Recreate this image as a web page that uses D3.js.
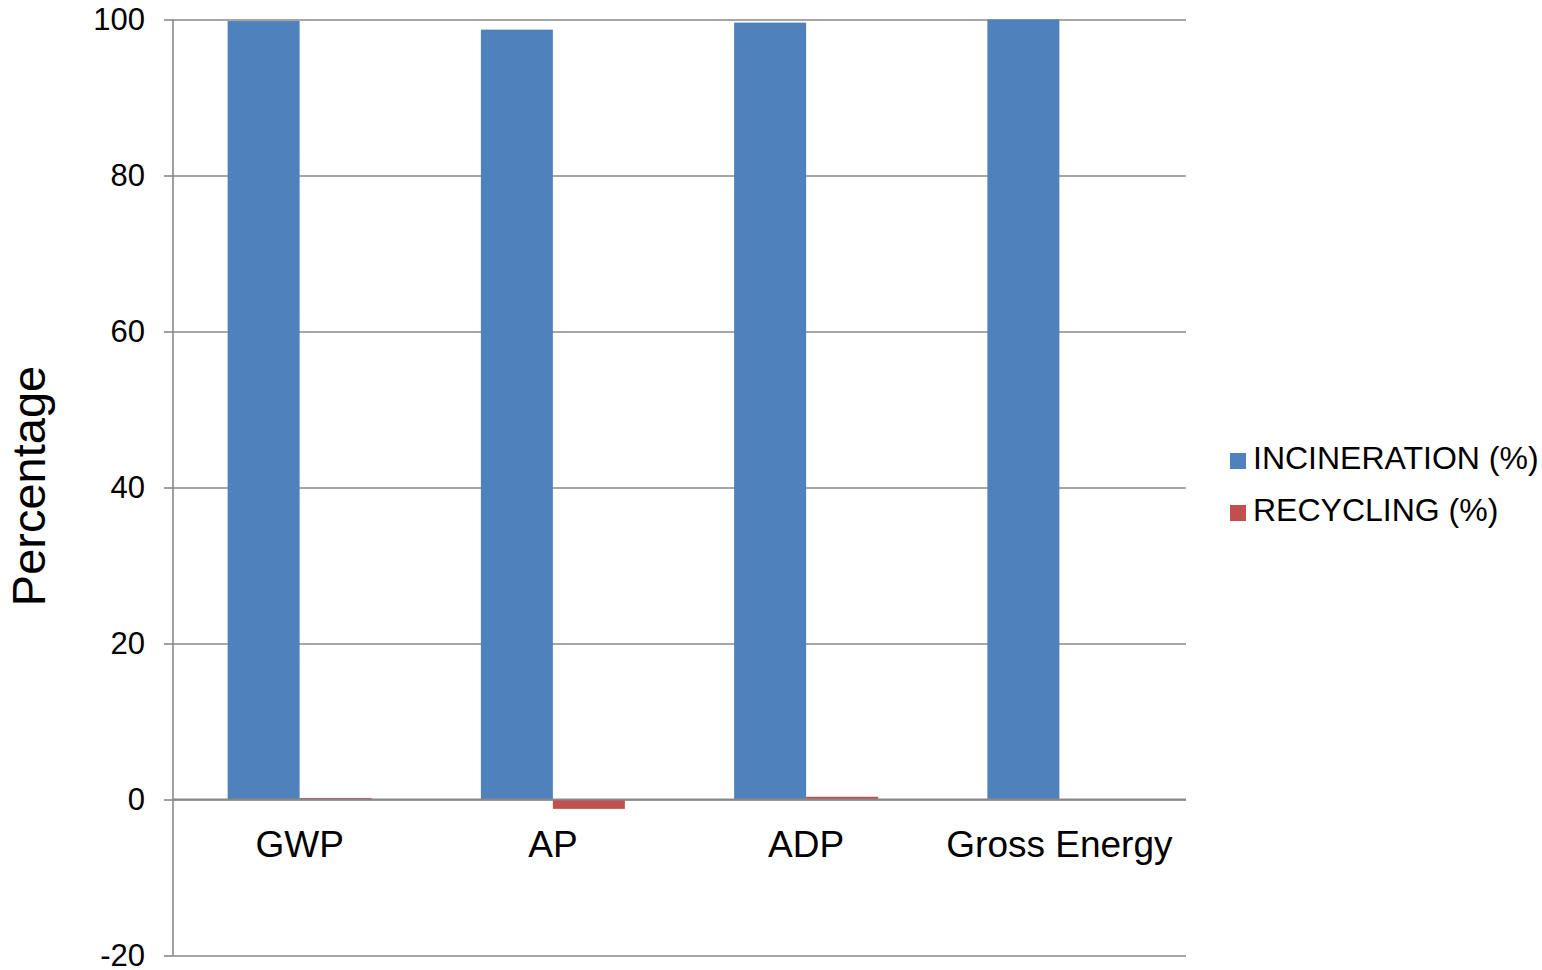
<!DOCTYPE html>
<html>
<head>
<meta charset="utf-8">
<script src="https://cdn.jsdelivr.net/npm/d3@7"></script>
<style>
  html, body { margin: 0; padding: 0; background: #fff; }
  svg { display: block; font-family: "Liberation Sans", Arial, sans-serif; }
</style>
</head>
<body>
<svg id="chart" width="1542" height="970"></svg>
<script>
// Impact categories on the x axis
const categories = ["GWP", "AP", "ADP", "Gross Energy"];
// Series shown side by side in each category
const seriesNames = ["INCINERATION (%)", "RECYCLING (%)"];
const incineration = [99.8, 98.7, 99.6, 100];
const recycling = [0.2, -1.2, 0.35, 0];
// Value axis ticks
const yTicks = [-20, 0, 20, 40, 60, 80, 100];
const yTitle = "Percentage";

const colors = ["#4F81BD", "#C0504D"];
const seriesValues = [incineration, recycling];

const svg = d3.select("#chart");
const plot = { left: 173, right: 1186, top: 19.5, bottom: 955.5 };

const y = d3.scaleLinear().domain([-20, 100]).range([plot.bottom, plot.top]);
const x = d3.scaleBand().domain(categories).range([plot.left, plot.right]).padding(0);
const groupWidth = x.bandwidth() * 0.5686;
const xs = d3.scaleBand().domain(seriesNames).range([0, groupWidth]).padding(0);

// Horizontal gridlines with outside tick marks
const yAxis = d3.axisLeft(y).tickValues(yTicks).tickSize(-(plot.right - plot.left)).tickPadding(28)
  .tickFormat(d => String(d));
const gy = svg.append("g").attr("transform", `translate(${plot.left},0)`).call(yAxis);
gy.select(".domain").remove();
gy.selectAll(".tick line").attr("stroke", "#898989").attr("stroke-width", 1.6);
gy.selectAll(".tick").append("line")
  .attr("x1", -9).attr("x2", 0)
  .attr("stroke", "#898989").attr("stroke-width", 1.6);
gy.selectAll(".tick text")
  .attr("font-size", 31).attr("fill", "#000")
  .attr("font-family", "'Liberation Sans', Arial, sans-serif");

// Vertical value axis line
svg.append("line")
  .attr("x1", plot.left).attr("x2", plot.left)
  .attr("y1", plot.top).attr("y2", plot.bottom)
  .attr("stroke", "#898989").attr("stroke-width", 1.6);

// Bars
const groups = svg.append("g").selectAll("g")
  .data(categories)
  .join("g")
  .attr("transform", d => `translate(${x(d) + (x.bandwidth() - groupWidth) / 2},0)`);

groups.selectAll("rect")
  .data((d, i) => seriesNames.map((s, j) => ({ s, j, v: seriesValues[j][i] })))
  .join("rect")
  .attr("x", d => xs(d.s))
  .attr("width", xs.bandwidth())
  .attr("y", d => y(Math.max(0, d.v)))
  .attr("height", d => Math.abs(y(d.v) - y(0)))
  .attr("fill", d => colors[d.j]);

// Category axis drawn at zero
const xAxis = d3.axisBottom(x).tickSize(0).tickPadding(0);
const gx = svg.append("g").attr("transform", `translate(0,${y(0)})`).call(xAxis);
gx.select(".domain").remove();
gx.selectAll(".tick text")
  .attr("font-size", 37).attr("fill", "#000")
  .attr("dy", null).attr("y", 57)
  .attr("font-family", "'Liberation Sans', Arial, sans-serif");
svg.append("line")
  .attr("x1", plot.left).attr("x2", plot.right)
  .attr("y1", y(0)).attr("y2", y(0))
  .attr("stroke", "#898989").attr("stroke-width", 1.8);

// Axis title
svg.append("text")
  .attr("transform", `translate(45,486) rotate(-90)`)
  .attr("text-anchor", "middle")
  .attr("font-size", 47)
  .attr("fill", "#000")
  .text(yTitle);

// Legend
const legend = svg.append("g").selectAll("g")
  .data(seriesNames)
  .join("g")
  .attr("transform", (d, i) => `translate(1230,${453 + i * 52})`);
legend.append("rect").attr("width", 16).attr("height", 16).attr("fill", (d, i) => colors[i]);
legend.append("text")
  .attr("x", 23).attr("y", 16)
  .attr("font-size", 32).attr("fill", "#000")
  .text(d => d);
</script>
</body>
</html>
